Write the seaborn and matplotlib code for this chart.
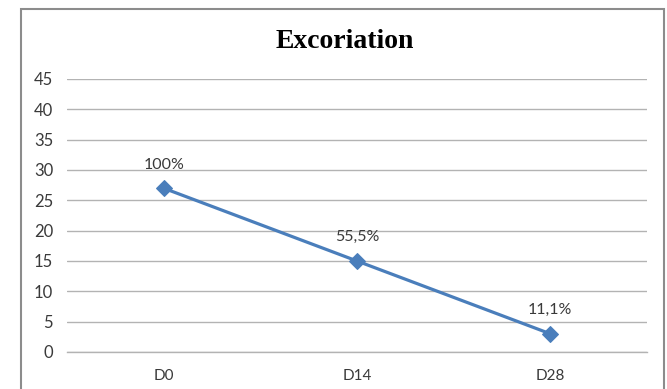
import matplotlib
matplotlib.use("Agg")
import matplotlib.pyplot as plt
import seaborn as sns
import pandas as pd
from matplotlib.patches import Rectangle

# Data
days = ["D0", "D14", "D28"]
scores = [27, 15, 3]
pct_labels = ["100%", "55,5%", "11,1%"]
y_ticks = [0, 5, 10, 15, 20, 25, 30, 35, 40, 45]

df = pd.DataFrame({"day": days, "score": scores})

sns.set_theme(style="white")
plt.rcParams["font.family"] = ["Lato", "DejaVu Sans"]

fig = plt.figure(figsize=(6.67, 3.89), dpi=100)
fig.patch.set_facecolor("white")
ax = fig.add_axes([67 / 667, 1 - 352 / 389, 580 / 667, 273 / 389])

line_color = "#4A7EBB"
sns.lineplot(data=df, x="day", y="score", ax=ax, color=line_color,
             linewidth=2.3, marker="D", markersize=8,
             markeredgecolor=line_color, markerfacecolor=line_color,
             sort=False)

# value labels above each point
for i, (val, lab) in enumerate(zip(scores, pct_labels)):
    ax.annotate(lab, (i, val), xytext=(0, 17), textcoords="offset points",
                ha="center", va="center", fontsize=11.5, color="#3a3a3a")

ax.set_xlim(-0.5, len(days) - 0.5)
ax.set_ylim(0, 45)
ax.set_yticks(y_ticks)
ax.set_yticklabels([str(t) for t in y_ticks])
ax.set_xticks(range(len(days)))
ax.set_xticklabels(days)
ax.set_xlabel("")
ax.set_ylabel("")

ax.yaxis.grid(True, color="#b3b3b3", linewidth=1)
ax.xaxis.grid(False)
ax.set_axisbelow(True)
for side in ["left", "right", "top"]:
    ax.spines[side].set_visible(False)
ax.spines["bottom"].set_color("#b3b3b3")
ax.spines["bottom"].set_linewidth(1)

ax.tick_params(axis="y", length=0, pad=10, labelsize=12, labelcolor="#3a3a3a")
ax.tick_params(axis="x", length=0, pad=12, labelsize=11, labelcolor="#3a3a3a")

# chart title
fig.text(345 / 667, 1 - 42 / 389, "Excoriation", ha="center", va="center",
         fontsize=20, fontweight="bold", family="Liberation Serif", color="black")

# outer chart frame
fig.patches.append(Rectangle((21 / 667, -0.1), 643 / 667, 1.1 - 9 / 389,
                             transform=fig.transFigure, fill=False,
                             edgecolor="#8c8c8c", linewidth=1.5))

fig.savefig("out.png", dpi=100)
